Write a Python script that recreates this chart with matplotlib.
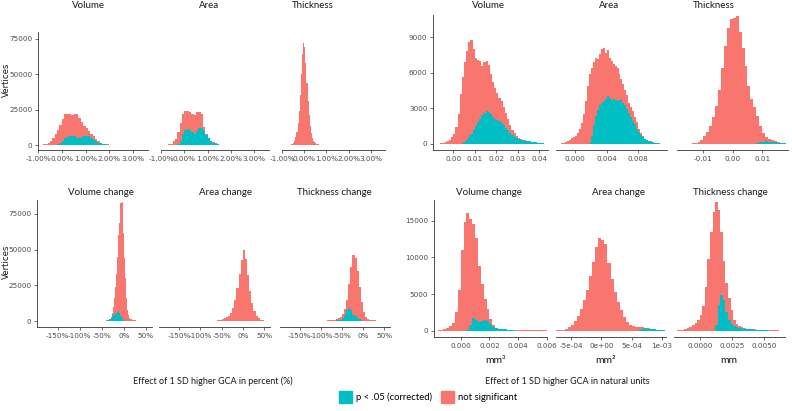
import numpy as np
import matplotlib
matplotlib.use("Agg")
import matplotlib.pyplot as plt
from matplotlib.patches import Patch

W, H = 792, 411
SIG = "#00BFC4"
NONSIG = "#F8766D"
LABEL_FONT = "Lato"

# ---- data: histogram bin start / width and counts (total, significant) ----
# left group, x in percent
lt_vol_start, lt_vol_width = -0.9, 0.1
lt_vol_total = [200, 400, 800, 1500, 2800, 4700, 7500, 10500, 14000, 18500, 21800, 22000,
                21800, 20800, 21800, 21500, 19000, 16000, 13500, 12000, 10000, 8000, 6200,
                4200, 2700, 1600, 1000, 600, 400, 300, 250, 200, 150, 100]
lt_vol_sig = [0, 0, 0, 0, 0, 100, 200, 500, 1500, 2800, 5000, 5900, 6300, 6200, 6000, 5200,
              4600, 5300, 6200, 6600, 6000, 4800, 3800, 2600, 1600, 1100, 700, 450, 350, 280,
              230, 190, 150, 100]

lt_area_start, lt_area_width = -0.8, 0.1
lt_area_total = [200, 400, 1000, 2500, 4500, 9000, 15500, 21500, 24200, 24000, 23000, 21500,
                 20800, 23000, 23300, 21800, 13000, 7500, 4800, 3000, 1800, 1100, 600, 300, 150]
lt_area_sig = [0, 0, 0, 0, 100, 700, 2500, 8000, 10500, 11500, 10500, 9000, 8000, 10200,
               12000, 12200, 10000, 7000, 4600, 2900, 1750, 1100, 600, 300, 150]

lt_thick_start, lt_thick_width = -0.8, 0.05
lt_thick_total = [100, 150, 200, 300, 500, 900, 1600, 3000, 5500, 9500, 15500, 24000, 35000,
                  50000, 64000, 71500, 69000, 58000, 44000, 31000, 21000, 13500, 8500, 5000,
                  3000, 1800, 1100, 700, 450, 300, 200, 100]
lt_thick_sig = [0] * 22 + [200, 300, 400, 400, 350, 300, 200, 150, 100, 80]

lb_vol_start, lb_vol_width = -60, 2.5
lb_vol_total = [100, 100, 150, 150, 200, 200, 250, 300, 400, 600, 900, 1500, 3000, 5500,
                10000, 16000, 24000, 33000, 45000, 60000, 69000, 82500, 83500, 62000, 44000,
                30000, 16000, 8000, 4000, 2200, 1400, 1000, 700, 500, 400, 300, 250, 200, 150, 100]
lb_vol_sig = [0] * 8 + [200, 400, 700, 1200, 2000, 3500, 4300, 4500, 4900, 5500, 6500, 7000,
                        5500, 3500, 2000, 900, 400, 200] + [0] * 14

lb_area_start, lb_area_width = -75, 5
lb_area_total = [150, 200, 300, 500, 800, 1200, 1800, 2600, 3800, 5500, 9000, 14500, 23000,
                 33000, 43000, 49800, 43500, 32000, 21000, 12500, 7000, 3800, 2000, 1000, 500, 200]
lb_area_sig = [100, 200, 300, 300, 250, 200, 100] + [0] * 19

lb_thick_start, lb_thick_width = -130, 5
lb_thick_total = [100, 100, 100, 150, 150, 200, 200, 250, 300, 400, 500, 700, 900, 1200, 1800,
                  3000, 5000, 8500, 15000, 26000, 38000, 46500, 44000, 35000, 24000, 13000,
                  6000, 3000, 1500, 900, 600, 400, 250, 150]
lb_thick_sig = [0] * 5 + [100, 100, 150, 200, 250, 300, 300, 350, 400, 600, 1000, 1800, 4200,
                          7500, 9300, 7800, 4500, 3300, 2200, 1200, 500, 200, 100] + [0] * 6

# right group, natural units
rt_vol_start, rt_vol_width = -0.007, 0.001
rt_vol_total = [30, 60, 100, 160, 250, 380, 550, 850, 1400, 2500, 4200, 5700, 6900, 7900, 8600,
                8750, 8000, 7300, 7100, 7000, 6600, 6900, 7050, 6700, 5900, 5200, 4700, 4300,
                3850, 3600, 3100, 2600, 2100, 1600, 1200, 900, 650, 480, 400, 340, 300, 270,
                230, 200, 170, 140, 110, 80, 50, 30]
rt_vol_sig = [0] * 11 + [50, 200, 380, 600, 850, 1150, 1500, 1850, 2150, 2450, 2650, 2750, 2700,
                         2550, 2250, 2100, 2050, 1950, 1800, 1600, 1380, 1150, 950, 780, 620,
                         500, 420, 370, 320, 290, 260, 225, 195, 165, 135, 105, 75, 50, 30]

rt_area_start, rt_area_width = -0.002, 0.00025
rt_area_total = [30, 60, 120, 200, 280, 380, 500, 600, 700, 900, 1250, 1800, 2500, 3600, 4900,
                 5900, 6400, 6900, 7300, 7200, 7600, 8000, 8100, 7700, 7950, 7300, 7000, 6800,
                 6600, 6400, 5900, 5500, 5100, 4600, 4100, 3500, 3100, 2800, 2300, 1900, 1300,
                 900, 650, 450, 350, 280, 220, 170, 120, 80, 50, 20]
rt_area_sig = [0] * 15 + [100, 700, 1600, 2400, 2900, 3300, 3500, 3600, 3800, 4050, 3850, 3750,
                          3800, 3700, 3650, 3750, 3700, 3500, 3300, 2950, 2600, 2300, 1950,
                          1650, 1300, 1000, 750, 550, 400, 320, 260, 210, 160, 115, 80, 50, 20]

rt_thick_start, rt_thick_width = -0.018, 0.001
rt_thick_total = [20, 25, 30, 40, 50, 80, 140, 300, 650, 1050, 1550, 2250, 3200, 4600, 6400,
                  8300, 9800, 10600, 10650, 10800, 9500, 8100, 6600, 4900, 3800, 3100, 2400,
                  1500, 950, 620, 450, 380, 260, 180, 120, 60]
rt_thick_sig = [0] * 25 + [30, 80, 150, 210, 230, 200, 170, 140, 110, 80, 50]

rb_vol_start, rb_vol_width = -0.0016, 0.0002
rb_vol_total = [50, 120, 220, 350, 600, 1100, 2600, 5500, 11000, 14800, 16100, 15300, 14600,
                12600, 8800, 6300, 4300, 3000, 1600, 750, 420, 280, 220, 180, 150, 130, 110,
                100, 90, 80, 70, 60, 50, 45, 40, 35, 30, 25]
rb_vol_sig = [0] * 10 + [50, 800, 1750, 1400, 1200, 1300, 1400, 1250, 900, 550, 340, 240, 200,
                         160, 140, 120, 100] + [0] * 11

rb_area_start, rb_area_width = -0.00075, 0.00005
rb_area_total = [30, 80, 150, 280, 500, 800, 1300, 2000, 2900, 4200, 5600, 7400, 9400, 11400,
                 12700, 12400, 11800, 9300, 7000, 5300, 3900, 2800, 1900, 1150, 800, 650, 550,
                 500, 450, 400, 320, 250, 180, 120, 60, 20]
rb_area_sig = [0] * 27 + [80, 200, 300, 280, 230, 170, 110, 60, 20]

rb_thick_start, rb_thick_width = -0.0018, 0.0002
rb_thick_total = [30, 80, 150, 250, 400, 550, 750, 1000, 1400, 2100, 3400, 6000, 9800, 13500,
                  16200, 17500, 16500, 13500, 9500, 6500, 4500, 2800, 1500, 850, 600, 430, 350,
                  290, 250, 210, 180, 150, 130, 110, 95, 80, 70, 55, 40, 25, 15]
rb_thick_sig = [0] * 15 + [800, 3500, 4800, 4200, 2500, 1500, 900, 600, 480, 400, 340, 290,
                           250, 220, 180, 150, 120, 100, 80, 60, 40] + [0] * 5

# ticks
pct_ticks = [-1, 0, 1, 2, 3]
pct_labels = ["-1.00%", "0.00%", "1.00%", "2.00%", "3.00%"]
chg_ticks = [-150, -100, -50, 0, 50]
chg_labels = ["-150%", "-100%", "-50%", "0%", "50%"]
left_yticks = [0, 25000, 50000, 75000]
rt_yticks = [0, 3000, 6000, 9000]
rb_yticks = [0, 5000, 10000, 15000]
rt_vol_ticks = [0.0, 0.01, 0.02, 0.03, 0.04]
rt_vol_labels = ["0.00", "0.01", "0.02", "0.03", "0.04"]
rt_area_ticks = [0.0, 0.004, 0.008]
rt_area_labels = ["0.000", "0.004", "0.008"]
rt_thick_ticks = [-0.01, 0.0, 0.01]
rt_thick_labels = ["-0.01", "0.00", "0.01"]
rb_vol_ticks = [0.0, 0.002, 0.004, 0.006]
rb_vol_labels = ["0.000", "0.002", "0.004", "0.006"]
rb_area_ticks = [-5e-4, 0.0, 5e-4, 1e-3]
rb_area_labels = ["-5e-04", "0e+00", "5e-04", "1e-03"]
rb_thick_ticks = [0.0, 0.0025, 0.005]
rb_thick_labels = ["0.0000", "0.0025", "0.0050"]

top_titles = ["Volume", "Area", "Thickness"]
bottom_titles = ["Volume change", "Area change", "Thickness change"]
units = ["mm³", "mm²", "mm"]

fig = plt.figure(figsize=(W / 100, H / 100), dpi=100)


def add_ax(x0, y0, x1, y1):
    return fig.add_axes([x0 / W, 1 - y1 / H, (x1 - x0) / W, (y1 - y0) / H])


def ftext(x, y, s, **kw):
    fig.text(x / W, 1 - y / H, s, ha="center", va="center", **kw)


def panel(box, start, width, total, sig, xlim, ylim, xticks, xlabels, yticks=None):
    ax = add_ax(*box)
    edges = start + width * np.arange(len(total) + 1)
    ax.stairs(total, edges, fill=True, color=NONSIG, lw=0)
    ax.stairs(sig, edges, fill=True, color=SIG, lw=0)
    ax.set_xlim(xlim)
    ax.set_ylim(ylim)
    ax.set_xticks(xticks, xlabels)
    for s in ["top", "right"]:
        ax.spines[s].set_visible(False)
    if yticks is None:
        ax.spines["left"].set_visible(False)
        ax.set_yticks([])
    else:
        ax.set_yticks(yticks, [str(t) for t in yticks])
    for s in ["left", "bottom"]:
        ax.spines[s].set_linewidth(0.6)
        ax.spines[s].set_color("#333333")
    ax.tick_params(labelsize=5.2, color="#333333", labelcolor="#4D4D4D",
                   length=2, width=0.5, pad=2)
    ax.patch.set_alpha(0)
    return ax


# left top
lt_ylim = (-3520, 79580)
lt_xlim = (-0.98, 3.63)
panel((38, 32, 148, 150), lt_vol_start, lt_vol_width, lt_vol_total, lt_vol_sig,
      lt_xlim, lt_ylim, pct_ticks, pct_labels, left_yticks)
panel((161, 32, 269, 150), lt_area_start, lt_area_width, lt_area_total, lt_area_sig,
      lt_xlim, lt_ylim, pct_ticks, pct_labels)
panel((282, 32, 385, 150), lt_thick_start, lt_thick_width, lt_thick_total, lt_thick_sig,
      lt_xlim, lt_ylim, pct_ticks, pct_labels)

# left bottom
lb_ylim = (-4200, 84800)
lb_xlim = (-197, 64)
panel((37, 200, 152, 327), lb_vol_start, lb_vol_width, lb_vol_total, lb_vol_sig,
      lb_xlim, lb_ylim, chg_ticks, chg_labels, left_yticks)
panel((159, 200, 270, 327), lb_area_start, lb_area_width, lb_area_total, lb_area_sig,
      lb_xlim, lb_ylim, chg_ticks, chg_labels)
panel((280, 200, 390, 327), lb_thick_start, lb_thick_width, lb_thick_total, lb_thick_sig,
      lb_xlim, lb_ylim, chg_ticks, chg_labels)

# right top
rt_ylim = (-507, 10900)
panel((433, 15, 548, 150), rt_vol_start, rt_vol_width, rt_vol_total, rt_vol_sig,
      (-0.0094, 0.044), rt_ylim, rt_vol_ticks, rt_vol_labels, rt_yticks)
panel((556, 15, 667, 150), rt_area_start, rt_area_width, rt_area_total, rt_area_sig,
      (-0.00244, 0.01166), rt_ylim, rt_area_ticks, rt_area_labels)
panel((677, 15, 788, 150), rt_thick_start, rt_thick_width, rt_thick_total, rt_thick_sig,
      (-0.019, 0.0188), rt_ylim, rt_thick_ticks, rt_thick_labels)

# right bottom
rb_ylim = (-870, 17840)
panel((434, 200, 547, 337), rb_vol_start, rb_vol_width, rb_vol_total, rb_vol_sig,
      (-0.00186, 0.0060), rb_ylim, rb_vol_ticks, rb_vol_labels, rb_yticks)
panel((556, 200, 666, 337), rb_area_start, rb_area_width, rb_area_total, rb_area_sig,
      (-0.00075, 0.001066), rb_ylim, rb_area_ticks, rb_area_labels)
panel((674, 200, 785, 337), rb_thick_start, rb_thick_width, rb_thick_total, rb_thick_sig,
      (-0.002, 0.00664), rb_ylim, rb_thick_ticks, rb_thick_labels)

# strip titles
for x, t in zip([88, 209, 313], top_titles):
    ftext(x, 6, t, fontsize=7, family=LABEL_FONT, color="#1A1A1A")
for x, t in zip([488, 609, 714], top_titles):
    ftext(x, 6, t, fontsize=7, family=LABEL_FONT, color="#1A1A1A")
for x, t in zip([101, 225, 334], bottom_titles):
    ftext(x, 192.5, t, fontsize=7, family=LABEL_FONT, color="#1A1A1A")
for x, t in zip([489, 618, 730], bottom_titles):
    ftext(x, 192.5, t, fontsize=7, family=LABEL_FONT, color="#1A1A1A")

ftext(6, 80, "Vertices", fontsize=6.2, rotation=90, color="#1A1A1A")
ftext(6, 262, "Vertices", fontsize=6.2, rotation=90, color="#1A1A1A")

for x, u in zip([495, 606, 729], units):
    ftext(x, 360, u, fontsize=7.5, family=LABEL_FONT, color="#1A1A1A")

ftext(213, 381.5, "Effect of 1 SD higher GCA in percent (%)", fontsize=6.5,
      family=LABEL_FONT, color="#1A1A1A")
ftext(567, 381.5, "Effect of 1 SD higher GCA in natural units", fontsize=6.5,
      family=LABEL_FONT, color="#1A1A1A")

handles = [Patch(color=SIG, label="p < .05 (corrected)"),
           Patch(color=NONSIG, label="not significant")]
fig.legend(handles=handles, loc="center", bbox_to_anchor=(428 / W, 1 - 397 / H), ncol=2,
           frameon=False, prop={"family": LABEL_FONT, "size": 6.8}, handlelength=1.4,
           handleheight=1.6, handletextpad=0.4, columnspacing=1.0, borderpad=0)

fig.savefig("out.png", dpi=100)
